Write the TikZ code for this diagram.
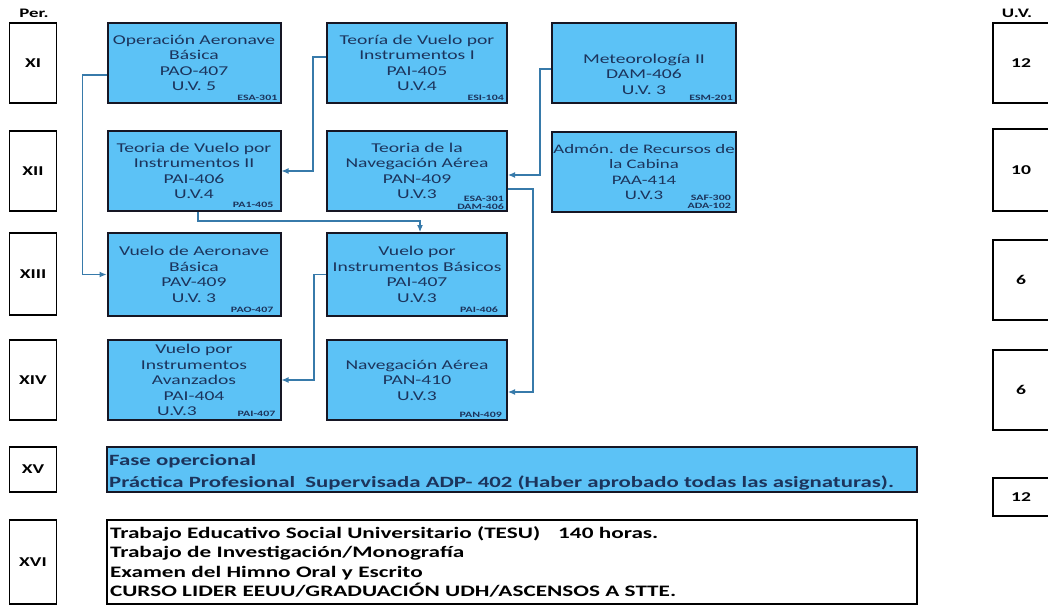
\documentclass[tikz,border=0pt]{standalone}
\usepackage{fontspec}
\usetikzlibrary{arrows.meta}
\setmainfont{Carlito}
\newfontfamily\boxfnt[FakeStretch=1.45]{Carlito}
\newfontfamily\boldfnt[FakeStretch=1.45]{Carlito}
\definecolor{boxblue}{RGB}{92,194,246}
\definecolor{navy}{RGB}{28,52,92}
\definecolor{linkblue}{RGB}{55,122,170}
\definecolor{edgecol}{RGB}{22,22,36}
\tikzset{
 course/.style={draw=edgecol, line width=2pt, fill=boxblue, align=center, text=navy,
   font=\boxfnt\fontsize{13.5}{15.5}\selectfont, inner sep=0pt},
 req/.style={font=\boldfnt\bfseries\fontsize{8.2}{8.6}\selectfont, text=navy, anchor=south east,
   inner sep=0pt, align=right},
 perbox/.style={draw=black, line width=1.3pt, fill=white, text=black,
   font=\boldfnt\bfseries\fontsize{13.5}{15}\selectfont, inner sep=0pt},
 headlbl/.style={font=\boldfnt\bfseries\fontsize{13}{15}\selectfont, text=black, inner sep=0pt},
 conn/.style={draw=linkblue, line width=1.1pt, -{Latex[length=7pt,width=6pt]}},
}
\begin{document}
\begin{tikzpicture}[x=1pt,y=-1pt]
\useasboundingbox[fill=white] (0,0) rectangle (1048,608);

% headers
\node[headlbl] (per) at (34,13) {Per.};
\node[headlbl] (uv) at (1017,13) {U.V.};

% period boxes
\node[perbox, minimum width=47pt, minimum height=80pt] (p11) at (33,63) {XI};
\node[perbox, minimum width=47pt, minimum height=80pt] (p12) at (33,171) {XII};
\node[perbox, minimum width=47pt, minimum height=82pt] (p13) at (33,274) {XIII};
\node[perbox, minimum width=47pt, minimum height=80pt] (p14) at (33,380) {XIV};
\node[perbox, minimum width=47pt, minimum height=45pt] (p15) at (33,469.5) {XV};
\node[perbox, minimum width=47pt, minimum height=84pt] (p16) at (33,562) {XVI};

% U.V. boxes
\node[perbox, minimum width=56pt, minimum height=80pt] (u11) at (1021,63) {12};
\node[perbox, minimum width=56pt, minimum height=82pt] (u12) at (1021,170) {10};
\node[perbox, minimum width=56pt, minimum height=80pt] (u13) at (1021,280) {6};
\node[perbox, minimum width=56pt, minimum height=80pt] (u14) at (1021,390) {6};
\node[perbox, minimum width=56pt, minimum height=38pt] (u15) at (1021,497) {12};

% row XI
\node[course, minimum width=173pt, minimum height=80pt] (pao407) at (194,63)
  {Operación Aeronave\\Básica\\PAO-407\\U.V. 5};
\node[req] (r1) at ([xshift=-4pt,yshift=3pt]pao407.south east) {ESA-301};
\node[course, minimum width=180pt, minimum height=80pt] (pai405) at (417,63)
  {Teoría de Vuelo por\\Instrumentos I\\PAI-405\\U.V.4};
\node[req] (r2) at ([xshift=-4pt,yshift=3pt]pai405.south east) {ESI-104};
\node[course, minimum width=184pt, minimum height=80pt] (dam406) at (644,63) {};
\node[course, draw=none, fill=none] (dam406t) at (644,74) {Meteorología II\\DAM-406\\U.V. 3};
\node[req] (r3) at ([xshift=-4pt,yshift=3pt]dam406.south east) {ESM-201};

% row XII
\node[course, minimum width=173pt, minimum height=80pt] (pai406) at (194,171)
  {Teoria de Vuelo por\\Instrumentos II\\PAI-406\\U.V.4};
\node[req] (r4) at ([xshift=-8pt,yshift=4pt]pai406.south east) {PA1-405};
\node[course, minimum width=180pt, minimum height=80pt] (pan409) at (417,171)
  {Teoria de la\\Navegación Aérea\\PAN-409\\U.V.3};
\node[req] (r5) at ([xshift=-4pt,yshift=2pt]pan409.south east) {ESA-301\\DAM-406};
\node[course, minimum width=184pt, minimum height=80pt, font=\boxfnt\fontsize{13}{15.5}\selectfont] (paa414) at (644,172)
  {Admón. de Recursos de\\la Cabina\\PAA-414\\U.V.3};
\node[req] (r6) at ([xshift=-6pt,yshift=4pt]paa414.south east) {SAF-300\\ADA-102};

% row XIII
\node[course, minimum width=173pt, minimum height=83pt] (pav409) at (194,274.5)
  {Vuelo de Aeronave\\Básica\\PAV-409\\U.V. 3};
\node[req] (r7) at ([xshift=-8pt,yshift=4pt]pav409.south east) {PAO-407};
\node[course, minimum width=180pt, minimum height=83pt] (pai407) at (417,274.5)
  {Vuelo por\\Instrumentos Básicos\\PAI-407\\U.V.3};
\node[req] (r8) at ([xshift=-10pt,yshift=4pt]pai407.south east) {PAI-406};

% row XIV
\node[course, minimum width=173pt, minimum height=80pt] (pai404) at (194,380)
  {Vuelo por\\Instrumentos\\Avanzados\\PAI-404\\U.V.3\hspace*{34pt}};
\node[req] (r9) at ([xshift=-6pt,yshift=4pt]pai404.south east) {PAI-407};
\node[course, minimum width=180pt, minimum height=80pt] (pan410) at (417,380)
  {Navegación Aérea\\PAN-410\\U.V.3};
\node[req] (r10) at ([xshift=-6pt,yshift=3pt]pan410.south east) {PAN-409};

% row XV
\node[draw=edgecol, line width=2pt, fill=boxblue, minimum width=810pt, minimum height=45pt,
  inner sep=0pt] (xv) at (512,469.5) {};
\node[text=navy, inner sep=0pt, text width=804pt, align=left, anchor=west,
  font=\boldfnt\bfseries\fontsize{15.7}{22}\selectfont] (xvtext) at ([xshift=3pt,yshift=-3pt]xv.west)
  {Fase opercional\\Práctica Profesional\hspace*{5pt} Supervisada ADP- 402 (Haber aprobado todas las asignaturas).};

% row XVI
\node[draw=black, line width=1.6pt, fill=white, text=black, inner xsep=3pt, inner ysep=0pt,
  minimum height=84pt, text width=804pt, align=left,
  font=\boldfnt\bfseries\fontsize{16}{19.5}\selectfont] (xvi) at (512,562)
  {Trabajo Educativo Social Universitario (TESU)\hspace*{18pt}140 horas.\\
   Trabajo de Investigación/Monografía\\
   Examen del Himno Oral y Escrito\\
   CURSO LIDER EEUU/GRADUACIÓN UDH/ASCENSOS A STTE.};

% connectors
\draw[conn] ([yshift=-12pt]pao407.west) -- ++(-24,0) |- (pav409.west);
\draw[conn] ([yshift=6pt]pai405.west) -- ++(-13,0) |- (pai406.east);
\draw[conn] ([yshift=-6pt]dam406.west) -- ++(-11,0) |- ([yshift=-4pt]pan409.east);
\draw[conn] ([xshift=4pt]pai406.south) -- ++(0,9) -| ([xshift=3pt]pai407.north);
\draw[conn] ([yshift=-18pt]pan409.east) -- ++(25,0) |- ([yshift=-12pt]pan410.east);
\draw[conn] (pai407.west) -- ++(-12,0) |- (pai404.east);
\end{tikzpicture}
\end{document}
